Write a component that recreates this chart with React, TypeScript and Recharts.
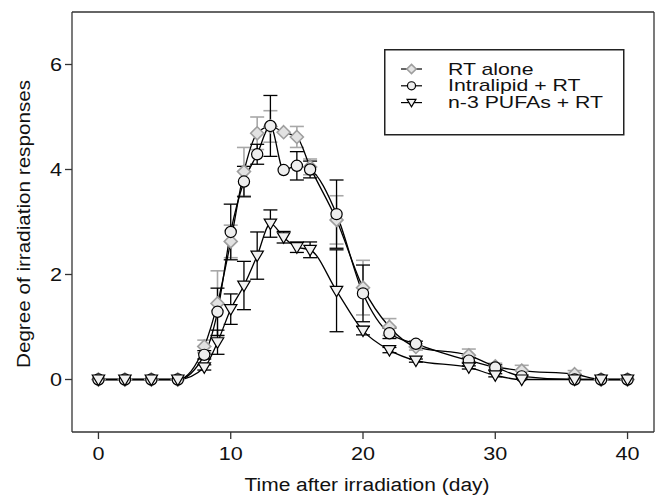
import React from 'react';
import { LineChart, Line, XAxis, YAxis, ErrorBar, ReferenceLine, Legend, Label } from 'recharts';

// days after irradiation
const days = [0, 2, 4, 6, 8, 9, 10, 11, 12, 13, 14, 15, 16, 18, 20, 22, 24, 28, 30, 32, 36, 38, 40];

// RT alone (grey diamonds)
const rtAlone = [0, 0, 0, 0, 0.63, 1.45, 2.63, 3.96, 4.69, 4.82, 4.71, 4.62, 4.05, 3.04, 1.75, 1.0, 0.62, 0.46, 0.25, 0.17, 0.1, 0, 0];
const rtAloneErr = [0, 0, 0, 0, 0.12, 0.62, 0.31, 0.46, 0.31, 0.3, 0, 0.2, 0.15, 0.46, 0.52, 0.16, 0.06, 0.12, 0.06, 0.1, 0.07, 0, 0];

// Intralipid + RT (circles)
const intralipid = [0, 0, 0, 0, 0.47, 1.29, 2.81, 3.77, 4.29, 4.83, 3.99, 4.07, 4.0, 3.15, 1.64, 0.88, 0.68, 0.36, 0.23, 0.06, 0, 0, 0];
const intralipidErr = [0, 0, 0, 0, 0.08, 0.45, 0.53, 0.29, 0.19, 0.58, 0, 0.27, 0.16, 0.65, 0.54, 0.1, 0.05, 0.05, 0.05, 0, 0, 0, 0];

// n-3 PUFAs + RT (down triangles)
const pufa = [0, 0, 0, 0, 0.23, 0.71, 1.34, 1.79, 2.36, 2.97, 2.71, 2.52, 2.47, 1.69, 0.93, 0.56, 0.36, 0.23, 0.08, 0, 0, 0, 0];
const pufaErr = [0, 0, 0, 0, 0.05, 0.23, 0.29, 0.46, 0.45, 0.26, 0.11, 0.1, 0.15, 0.78, 0.08, 0.05, 0.03, 0.03, 0.03, 0, 0, 0, 0];

const xTicks = [0, 10, 20, 30, 40];
const yTicks = [0, 2, 4, 6];
const legendLabels = ['RT alone', 'Intralipid + RT', 'n-3 PUFAs + RT'];

const nz = (v: number) => (v > 0 ? v : null);

const data = days.map((day, i) => ({
  day,
  rt: rtAlone[i],
  rtErr: nz(rtAloneErr[i]),
  intra: intralipid[i],
  intraErr: nz(intralipidErr[i]),
  pufa: pufa[i],
  pufaErr: nz(pufaErr[i]),
}));

const FONT = '"Liberation Sans", Arial, Helvetica, sans-serif';

const marker = (shape: string, cx: number, cy: number, s: number, key?: string) => {
  if (shape === 'diamond') {
    const r = 6.5 * s;
    return (
      <path key={key} d={`M${cx},${cy - r}L${cx + r},${cy}L${cx},${cy + r}L${cx - r},${cy}Z`}
        fill="#e2e2e2" stroke="#9e9e9e" strokeWidth={1.6} />
    );
  }
  if (shape === 'circle') {
    return <circle key={key} cx={cx} cy={cy} r={5.6 * s} fill="#eeeeee" stroke="#000" strokeWidth={1.2} />;
  }
  const w = 6.2 * s;
  return (
    <path key={key} d={`M${cx - w},${cy - 4.5 * s}L${cx + w},${cy - 4.5 * s}L${cx},${cy + 6 * s}Z`}
      fill="#f2f2f2" stroke="#000" strokeWidth={1.2} />
  );
};

const dotFor = (shape: string) => (props: any) => {
  const { cx, cy, index } = props;
  if (cx == null || cy == null) return <g key={`${shape}-${index}`} />;
  return marker(shape, cx, cy, 1, `${shape}-${index}`);
};

const XTick = ({ x, y, payload }: any) => (
  <text transform={`translate(${x},${y + 19}) scale(1.2,1)`} textAnchor="middle" fontSize={18} fontFamily={FONT} fill="#111">
    {payload.value}
  </text>
);

const YTick = ({ x, y, payload }: any) => (
  <text transform={`translate(${x - 1},${y + 6.5}) scale(1.2,1)`} textAnchor="end" fontSize={18} fontFamily={FONT} fill="#111">
    {payload.value}
  </text>
);

const XTitle = ({ viewBox }: any) => (
  <text x={viewBox.x + viewBox.width / 2 + 4} y={491} textAnchor="middle" fontSize={18} fontFamily={FONT}
    fill="#111" textLength={245} lengthAdjust="spacingAndGlyphs">
    Time after irradiation (day)
  </text>
);

const YTitle = ({ viewBox }: any) => {
  const cy = viewBox.y + viewBox.height / 2 + 2;
  return (
    <text transform={`translate(30,${cy}) rotate(-90)`} textAnchor="middle" fontSize={18} fontFamily={FONT}
      fill="#111" textLength={288} lengthAdjust="spacingAndGlyphs">
      Degree of irradiation responses
    </text>
  );
};

const shapes = ['diamond', 'circle', 'triangle'];

const LegendBox = () => (
  <svg width={241} height={87} style={{ display: 'block' }}>
    <rect x={0.75} y={0.75} width={239} height={85} fill="#fff" stroke="#222" strokeWidth={1.5} />
    {legendLabels.map((label, i) => {
      const y = 20 + i * 16.8;
      return (
        <g key={label}>
          <line x1={17} x2={38} y1={y} y2={y} stroke="#000" strokeWidth={1.2} />
          {marker(shapes[i], 27.5, y, 0.72)}
          <text transform={`translate(64,${y + 5.5}) scale(1.33,1)`} fontSize={16} fontFamily={FONT} fill="#111">
            {label}
          </text>
        </g>
      );
    })}
  </svg>
);

export default function App() {
  return (
    <div style={{ position: 'absolute', left: 0, top: 0, background: '#fff' }}>
      <LineChart width={659} height={497} data={data} margin={{ top: 12, right: 5, left: 0, bottom: 0 }}>
        <XAxis type="number" dataKey="day" domain={[-2, 42]} ticks={xTicks} height={65} tickSize={7}
          axisLine={{ stroke: '#333', strokeWidth: 1.3 }} tickLine={{ stroke: '#333', strokeWidth: 1.3 }} tick={<XTick />}>
          <Label content={<XTitle />} />
        </XAxis>
        <YAxis type="number" domain={[-1, 7]} ticks={yTicks} width={72} tickSize={7}
          axisLine={{ stroke: '#333', strokeWidth: 1.3 }} tickLine={{ stroke: '#333', strokeWidth: 1.3 }} tick={<YTick />}>
          <Label content={<YTitle />} />
        </YAxis>
        <ReferenceLine y={7} stroke="#333" strokeWidth={1.3} />
        <ReferenceLine x={42} stroke="#333" strokeWidth={1.3} />
        <Line type="monotone" dataKey="rt" stroke="#000" strokeWidth={1.3} dot={dotFor('diamond')} isAnimationActive={false}>
          <ErrorBar dataKey="rtErr" direction="y" width={7} stroke="#a8a8a8" strokeWidth={1.6} isAnimationActive={false} />
        </Line>
        <Line type="monotone" dataKey="intra" stroke="#000" strokeWidth={1.3} dot={dotFor('circle')} isAnimationActive={false}>
          <ErrorBar dataKey="intraErr" direction="y" width={7} stroke="#000" strokeWidth={1.3} isAnimationActive={false} />
        </Line>
        <Line type="monotone" dataKey="pufa" stroke="#000" strokeWidth={1.3} dot={dotFor('triangle')} isAnimationActive={false}>
          <ErrorBar dataKey="pufaErr" direction="y" width={7} stroke="#000" strokeWidth={1.3} isAnimationActive={false} />
        </Line>
        <Legend layout="vertical" align="center" verticalAlign="middle" content={<LegendBox />}
          wrapperStyle={{ left: 384, top: 49, width: 241, height: 87 }} />
      </LineChart>
    </div>
  );
}
